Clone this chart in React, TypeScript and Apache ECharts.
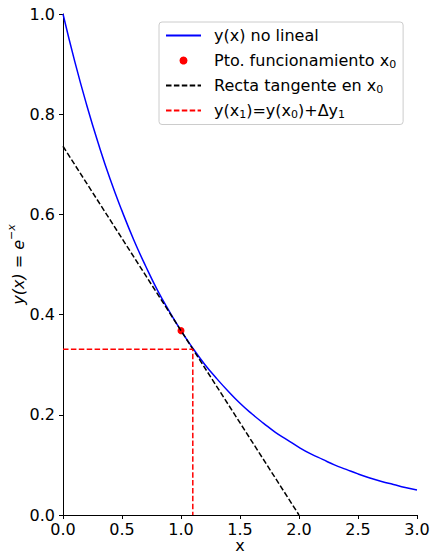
import React, { useEffect, useRef } from "react";
import * as echarts from "echarts";

// y(x) = e^-x read at x = 0.0 .. 3.0 (step 0.1)
const curveX = [0.0, 0.1, 0.2, 0.3, 0.4, 0.5, 0.6, 0.7, 0.8, 0.9, 1.0, 1.1, 1.2, 1.3, 1.4, 1.5, 1.6, 1.7, 1.8, 1.9, 2.0, 2.1, 2.2, 2.3, 2.4, 2.5, 2.6, 2.7, 2.8, 2.9, 3.0];
const curveY = [1.0, 0.905, 0.819, 0.741, 0.670, 0.607, 0.549, 0.497, 0.449, 0.407, 0.368, 0.333, 0.301, 0.273, 0.247, 0.223, 0.202, 0.183, 0.165, 0.150, 0.135, 0.122, 0.111, 0.100, 0.091, 0.082, 0.074, 0.067, 0.061, 0.055, 0.050];

const opPointX = [1.0];
const opPointY = [0.368];

const tangentX = [0.0, 2.0];
const tangentY = [0.736, 0.0];

const stepX = [0.0, 1.1, 1.1];
const stepY = [0.331, 0.331, 0.0];

const seriesNames = ["y(x) no lineal", "Pto. funcionamiento x0", "Recta tangente en x0", "y(x1)=y(x0)+Δy1"];
const legendLabels: Record<string, string> = {
  "y(x) no lineal": "y(x) no lineal",
  "Pto. funcionamiento x0": "Pto. funcionamiento x{sub|0}",
  "Recta tangente en x0": "Recta tangente en x{sub|0}",
  "y(x1)=y(x0)+Δy1": "y(x{sub|1})=y(x{sub|0})+Δy{sub|1}",
};

const zip = (xs: number[], ys: number[]) => xs.map((x, i) => [x, ys[i]]);

const FONT = "DejaVu Sans";
const FS = 16;
const DASH = [5.5, 2.4];

export default function App() {
  const ref = useRef<HTMLDivElement>(null);
  useEffect(() => {
    if (!ref.current) return;
    const chart = echarts.init(ref.current, undefined, { renderer: "svg" });
    const hiddenSymbol = { color: "rgba(0,0,0,0)", borderWidth: 0, opacity: 0 };
    chart.setOption({
      animation: false,
      backgroundColor: "#fff",
      textStyle: { fontFamily: FONT },
      grid: { left: 63, right: 14, top: 14, bottom: 39, containLabel: false, outerBoundsMode: "none" },
      xAxis: {
        type: "value",
        min: 0,
        max: 3,
        interval: 0.5,
        name: "x",
        nameLocation: "middle",
        nameGap: 23,
        nameMoveOverlap: false,
        nameTextStyle: { fontSize: FS, lineHeight: 15, color: "#000", fontFamily: FONT },
        axisLine: { lineStyle: { color: "#000", width: 1 } },
        axisTick: { show: true, inside: false, length: 4, lineStyle: { color: "#000" } },
        axisLabel: { fontSize: FS, lineHeight: 16, color: "#000", margin: 6, formatter: (v: number) => v.toFixed(1) },
        splitLine: { show: false },
      },
      yAxis: {
        type: "value",
        min: 0,
        max: 1,
        interval: 0.2,
        name: "{a|y(x) = e}{s|−x}",
        nameLocation: "middle",
        nameRotate: 90,
        nameGap: 37,
        nameMoveOverlap: false,
        nameTextStyle: {
          color: "#000",
          fontFamily: FONT,
          rich: {
            a: { fontSize: FS, fontStyle: "italic", color: "#000", fontFamily: FONT, lineHeight: 20, verticalAlign: "bottom" },
            s: { fontSize: 11, fontStyle: "italic", color: "#000", fontFamily: FONT, lineHeight: 20, verticalAlign: "top" },
          },
        },
        axisLine: { show: true, lineStyle: { color: "#000", width: 1 } },
        axisTick: { show: true, inside: false, length: 4, lineStyle: { color: "#000" } },
        axisLabel: { fontSize: FS, color: "#000", margin: 8, formatter: (v: number) => v.toFixed(1) },
        splitLine: { show: false },
      },
      legend: {
        show: true,
        orient: "vertical",
        left: 159,
        top: 22,
        padding: [4.5, 7, 5, 6],
        itemWidth: 35,
        itemHeight: 8,
        itemGap: 7,
        borderColor: "#ccc",
        borderWidth: 1,
        borderRadius: 3,
        backgroundColor: "rgba(255,255,255,0.8)",
        data: [
          { name: seriesNames[0], itemStyle: hiddenSymbol },
          { name: seriesNames[1], icon: "circle", itemStyle: { color: "#ff0000", opacity: 1 } },
          { name: seriesNames[2], itemStyle: hiddenSymbol },
          { name: seriesNames[3], itemStyle: hiddenSymbol },
        ],
        formatter: (n: string) => legendLabels[n] ?? n,
        textStyle: {
          fontSize: FS,
          lineHeight: 18,
          color: "#000",
          fontFamily: FONT,
          padding: [0, 0, 0, 8],
          rich: {
            sub: { fontSize: 11, lineHeight: 18, color: "#000", fontFamily: FONT, verticalAlign: "bottom" },
          },
        },
      },
      series: [
        {
          name: seriesNames[0],
          type: "line",
          data: zip(curveX, curveY),
          smooth: true,
          symbol: "none",
          showSymbol: false,
          lineStyle: { color: "#0000ff", width: 1.5 },
          itemStyle: { color: "#0000ff" },
          z: 2,
        },
        {
          name: seriesNames[1],
          type: "scatter",
          data: zip(opPointX, opPointY),
          symbol: "circle",
          symbolSize: 7,
          itemStyle: { color: "#ff0000", opacity: 1 },
          z: 3,
        },
        {
          name: seriesNames[2],
          type: "line",
          data: zip(tangentX, tangentY),
          symbol: "none",
          showSymbol: false,
          lineStyle: { color: "#000", width: 1.5, type: DASH },
          itemStyle: { color: "#000" },
          z: 4,
        },
        {
          name: seriesNames[3],
          type: "line",
          data: zip(stepX, stepY),
          symbol: "none",
          showSymbol: false,
          lineStyle: { color: "#ff0000", width: 1.5, type: DASH },
          itemStyle: { color: "#ff0000" },
          z: 5,
        },
      ],
    });
    return () => chart.dispose();
  }, []);
  return <div ref={ref} style={{ width: 431, height: 554, position: "absolute", left: 0, top: 0 }} />;
}
